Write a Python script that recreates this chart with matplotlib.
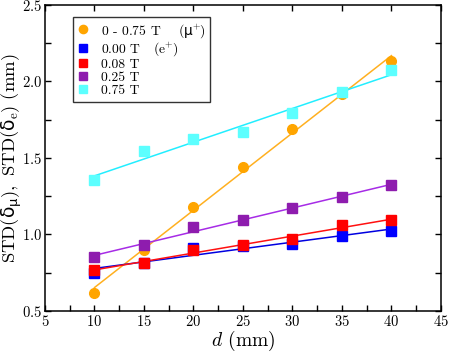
import numpy as np
import matplotlib
matplotlib.use("Agg")
import matplotlib.pyplot as plt
from matplotlib.ticker import MultipleLocator

plt.rcParams['font.family'] = ['cmr10', 'DejaVu Sans']
plt.rcParams['mathtext.fontset'] = 'cm'
plt.rcParams['mathtext.rm'] = 'cmr10'
plt.rcParams['mathtext.sf'] = 'DejaVu Sans'
plt.rcParams['axes.formatter.use_mathtext'] = True

# distance d (mm)
d = np.array([10, 15, 20, 25, 30, 35, 40])

# STD values (mm)
mu_all = [0.62, 0.90, 1.18, 1.44, 1.685, 1.915, 2.13]
e_000 = [0.75, 0.81, 0.91, 0.925, 0.94, 0.99, 1.02]
e_008 = [0.77, 0.81, 0.90, 0.93, 0.97, 1.06, 1.095]
e_025 = [0.85, 0.93, 1.05, 1.095, 1.175, 1.245, 1.32]
e_075 = [1.355, 1.545, 1.625, 1.67, 1.79, 1.93, 2.07]

labels = [r'0 - 0.75 T    ($\mathsf{\mu}^{+}$)', r'0.00 T   ($\mathrm{e}^{+}$)',
          '0.08 T', '0.25 T', '0.75 T']
marker_colors = ['#FFA500', '#0000FF', '#FF0000', '#8E1CAE', '#5CFFFF']
line_colors = ['#FFB020', '#0000E0', '#FF1010', '#A62BE6', '#22EEFF']
markers = ['o', 's', 's', 's', 's']

fig = plt.figure(figsize=(4.49, 3.55), dpi=100)
ax = fig.add_axes([0.1002, 0.124, 0.8818, 0.863])

series = [mu_all, e_000, e_008, e_025, e_075]
for y, lab, mc, lc, m in zip(series, labels, marker_colors, line_colors, markers):
    y = np.array(y)
    p = np.polyfit(d, y, 1)
    xx = np.array([d[0], d[-1]])
    ax.plot(xx, np.polyval(p, xx), color=lc, lw=1.1, zorder=2)
    ax.plot(d, y, ls='none', marker=m, ms=7, color=mc, mec=mc, label=lab, zorder=3)

ax.set_xlim(5, 45)
ax.set_ylim(0.5, 2.5)
ax.xaxis.set_major_locator(MultipleLocator(5))
ax.xaxis.set_minor_locator(MultipleLocator(2.5))
ax.yaxis.set_major_locator(MultipleLocator(0.5))
ax.yaxis.set_minor_locator(MultipleLocator(0.25))
ax.tick_params(which='both', direction='in', length=4, width=1, labelsize=10.5,
               top=True, right=True, pad=2)
ax.tick_params(which='minor', top=False)
for s in ax.spines.values():
    s.set_linewidth(1.1)

ax.set_xlabel(r'$d$ (mm)', fontsize=14, labelpad=0)
ylab = ax.set_ylabel(r'$\mathrm{STD(}\mathsf{\delta}_{\mathsf{\mu}}\mathrm{),\ STD(}'
                     r'\mathsf{\delta}_{\mathrm{e}}\mathrm{)\ (mm)}$',
                     fontsize=13.4)
ylab.set_math_fontfamily('custom')
ax.yaxis.set_label_coords(-0.053, 0.5)

leg = ax.legend(loc='upper left', bbox_to_anchor=(0.07, 0.96), borderaxespad=0,
                fontsize=9.8, frameon=True, fancybox=False, edgecolor='black',
                handlelength=0.8, handletextpad=0.9, borderpad=0.35,
                labelspacing=0.03, markerscale=0.85)
leg.get_frame().set_linewidth(1.0)
for t in leg.get_texts():
    t.set_math_fontfamily('custom')

fig.savefig('out.png', dpi=100)
